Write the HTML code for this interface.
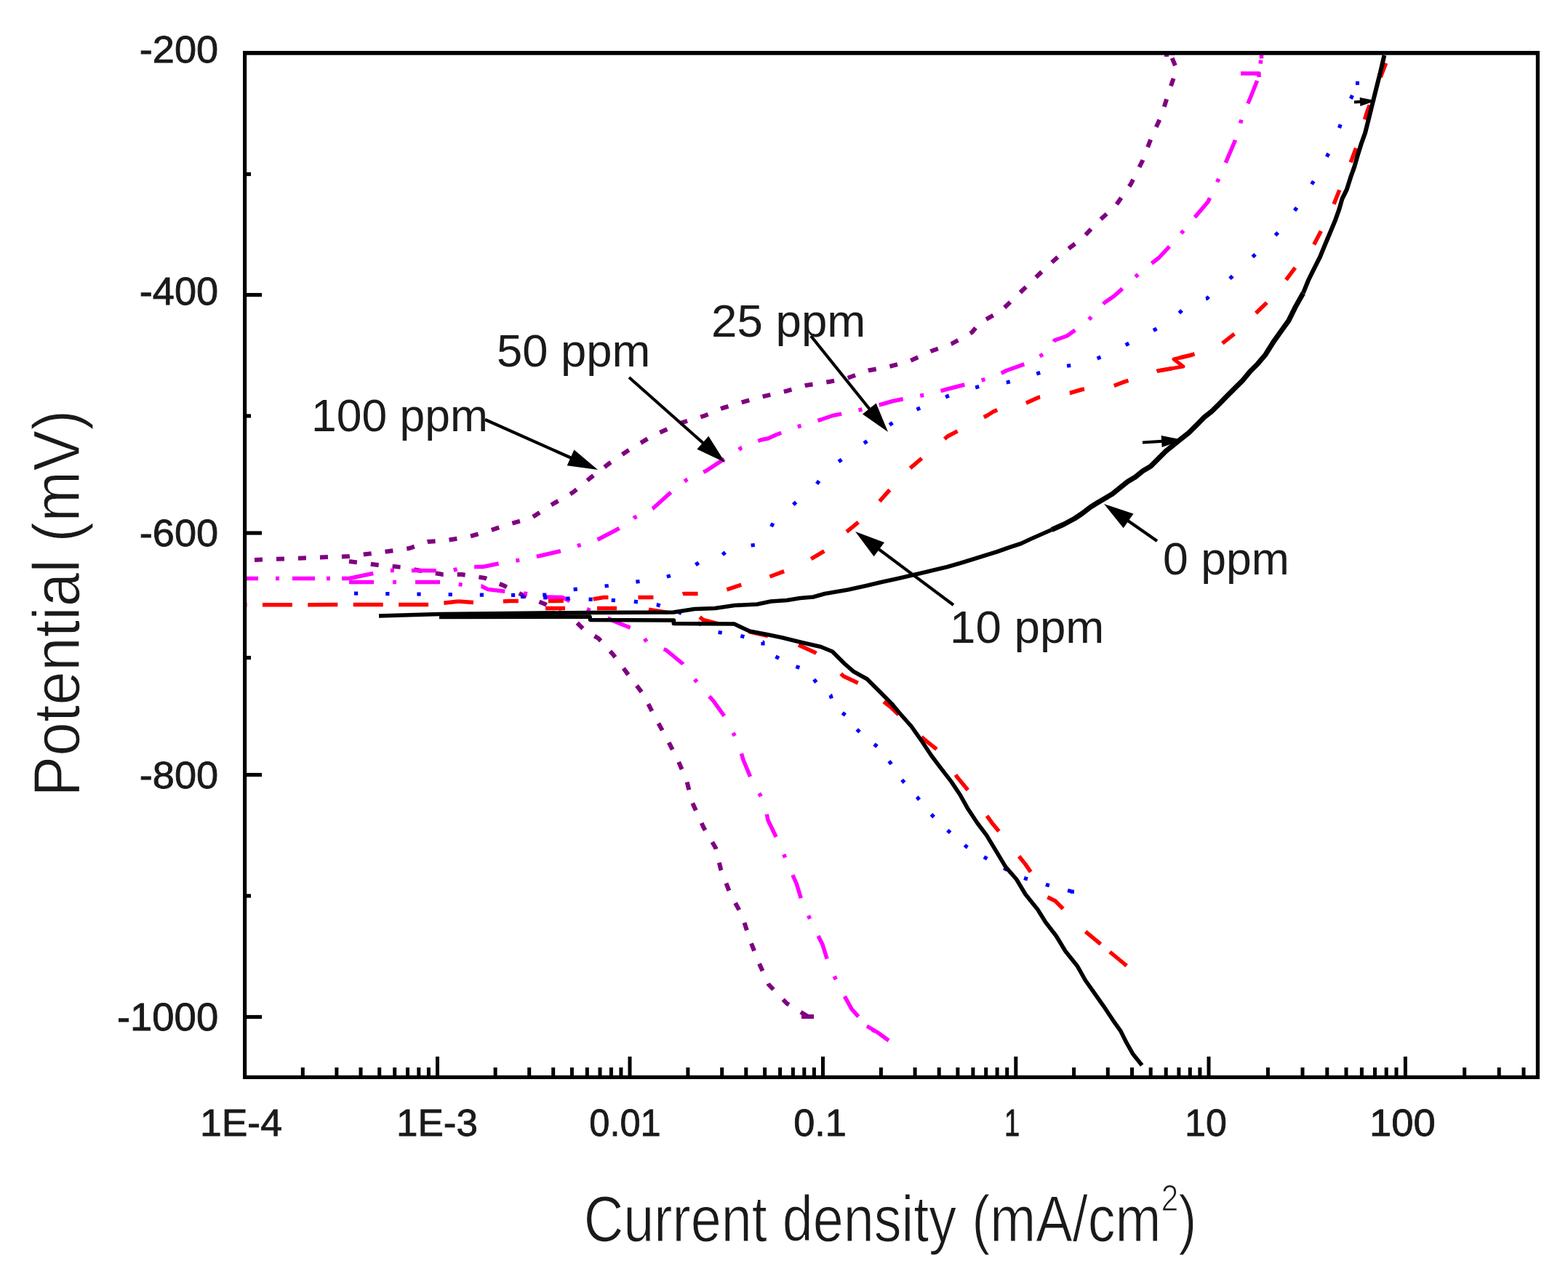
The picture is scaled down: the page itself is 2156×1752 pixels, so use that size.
<!DOCTYPE html><html><head><meta charset="utf-8"><title>Tafel plot</title>
<style>html,body{margin:0;padding:0;background:#fff;}svg{display:block;}text{font-family:"Liberation Sans",sans-serif;}</style></head><body>
<svg width="2156" height="1752" viewBox="0 0 2156 1752">
<rect x="0" y="0" width="2156" height="1752" fill="#fff"/>
<g fill="none" stroke-linejoin="round">
<polyline points="350.0,770.0 480.0,765.0 520.0,760.0 563.0,754.0 588.0,745.0 614.0,743.0 645.0,738.0 672.0,730.0 703.0,720.0 731.0,712.0 755.0,696.0 788.0,677.0 812.0,657.0 838.0,637.0 863.0,620.0 896.0,600.0 921.0,588.5 935.0,582.0 968.0,572.0 994.0,561.0 1026.0,551.6 1048.0,545.5 1082.0,537.6 1108.0,530.0 1140.0,525.0 1165.0,520.0 1194.0,509.5 1223.0,504.0 1251.0,496.5 1280.0,483.0 1308.0,473.0 1336.5,457.0 1347.0,444.0 1376.0,428.0 1402.0,403.0 1430.0,376.0 1457.0,351.0 1488.0,328.0 1508.0,306.6 1534.0,283.0 1555.0,253.0 1571.0,221.0 1584.0,187.0 1597.0,159.0 1607.0,127.0 1618.0,95.0 1610.0,76.0" stroke="#800080" stroke-width="6" stroke-dasharray="11 19"/>
<polyline points="480.0,772.0 520.0,777.0 552.0,780.0 579.0,785.0 609.0,790.0 635.0,790.0 667.0,795.0 692.0,805.0 718.0,818.0 750.0,831.0 792.0,855.0 802.0,865.0 823.0,878.0 843.0,900.0 864.0,928.0 884.0,954.0 900.0,985.0 916.0,1014.0 932.0,1045.0 944.0,1073.0 952.0,1104.0 967.5,1138.0 984.0,1166.0 991.0,1195.0 1004.0,1229.0 1020.0,1258.0 1031.0,1292.0 1043.0,1323.0 1057.0,1354.0 1082.0,1380.0 1111.0,1398.0" stroke="#800080" stroke-width="6" stroke-dasharray="11 19"/>
<polyline points="334.0,795.5 480.0,795.5" stroke="#ff00ff" stroke-width="5.5" stroke-dasharray="21 24 5 18 31 16 5 16 31 16 5 16 31 16 5 16"/>
<polyline points="480.0,795.5 532.0,784.5 563.0,784.5 620.0,785.0 641.0,779.5 664.0,779.5 688.0,774.5 703.0,772.0 719.0,769.5 742.0,764.5 770.0,758.0 786.0,753.0 820.0,743.0 845.0,730.0 861.0,721.0 872.0,712.0 898.0,699.0 918.0,681.0 935.0,666.0 944.0,660.0 971.0,647.5 999.0,629.0 1009.0,624.0 1019.0,616.0 1046.0,605.0 1056.0,603.0 1067.0,598.0 1095.0,587.5 1129.0,577.0 1145.0,571.5 1173.0,566.0 1214.0,555.5 1228.0,551.5 1284.0,540.5 1301.0,535.5 1334.0,527.0 1366.0,518.6 1384.0,509.5 1412.0,499.5 1442.0,483.0 1450.0,468.0 1467.0,462.0 1495.0,442.0 1519.0,416.0 1532.0,407.0 1545.0,395.5 1568.0,374.5 1594.0,354.0 1620.0,326.0 1641.0,301.0 1661.0,277.5 1677.0,243.0 1698.0,194.0 1708.6,159.5 1719.0,135.0 1731.0,105.0 1734.5,76.0" stroke="#ff00ff" stroke-width="5.5" stroke-dasharray="34 24 5 24"/>
<polyline points="480.0,800.5 560.0,800.5 617.0,800.5 641.0,805.5 662.0,806.0 671.0,810.6 724.0,816.5 747.0,821.0 773.0,821.5 801.0,835.0 851.0,857.0 880.0,868.5 890.0,884.0 916.0,894.0 939.0,913.0 962.0,943.0 981.0,964.0 996.0,985.0 1015.0,1021.0 1022.0,1045.0 1032.0,1069.0 1051.0,1104.0 1056.0,1128.0 1070.0,1157.0 1085.0,1192.0 1095.5,1216.0 1103.0,1241.0 1119.0,1275.0 1131.0,1299.0 1140.0,1328.0 1155.0,1358.6 1171.0,1387.6 1192.0,1411.0 1222.0,1431.0" stroke="#ff00ff" stroke-width="5.5" stroke-dasharray="34 26 5 26"/>
<polyline points="487.0,816.0 700.0,818.5 752.0,818.0 785.0,811.0 836.0,805.5 872.0,800.5 909.0,795.5 944.0,785.0 965.0,771.0 981.0,774.0 1004.5,753.0 1046.0,748.6 1050.0,747.5 1064.0,717.0 1122.0,667.0 1137.0,647.0 1168.0,624.0 1241.0,571.5 1277.0,556.0 1313.0,540.5 1350.0,530.5 1386.0,525.5 1423.0,514.5 1459.0,504.5 1495.0,499.0 1531.6,483.0 1610.0,441.7 1636.0,416.0 1659.5,410.5 1693.4,381.0 1760.4,317.0 1786.5,280.7 1812.4,239.2 1833.5,197.5 1848.7,156.4 1866.6,114.3" stroke="#0000ff" stroke-width="5.2" stroke-dasharray="5.2 38"/>
<polyline points="716.0,820.5 867.0,826.5 903.0,831.5 934.0,842.0 981.0,868.5 1017.0,874.0 1049.0,883.0 1049.0,894.0 1090.0,915.0 1105.5,920.5 1116.0,930.0 1124.0,940.5 1142.0,956.0 1147.0,972.0 1168.0,987.5 1173.0,998.4 1189.0,1013.0 1209.0,1029.0 1225.0,1050.0 1238.5,1070.6 1261.0,1096.0 1277.5,1117.0 1298.5,1138.0 1329.0,1164.4 1365.0,1185.5 1402.0,1205.6 1438.0,1216.4 1474.4,1226.2" stroke="#0000ff" stroke-width="5.2" stroke-dasharray="5.2 26"/>
<polyline points="334.0,831.7 590.0,831.5 630.0,827.0" stroke="#ff0000" stroke-width="5.5" stroke-dasharray="41 21.4" stroke-dashoffset="35.5"/>
<polyline points="630.0,827.0 660.0,829.0 700.0,826.5 760.0,826.5 805.0,826.0 830.0,821.5 872.0,821.5 926.0,821.5 940.0,816.5 987.0,816.5 999.0,811.0 1045.0,795.5 1053.0,795.0 1100.0,777.5 1145.0,751.0 1155.0,739.0 1193.0,707.5 1246.0,648.5 1303.0,600.0 1358.0,571.0 1366.0,566.0 1376.0,561.5 1407.0,556.0 1428.0,546.5 1471.0,540.5 1488.0,535.5 1531.6,530.6 1545.0,525.4 1592.0,510.0 1627.0,504.0 1614.0,494.0 1639.0,488.0 1680.0,472.7 1700.0,457.0 1740.0,418.0 1755.0,403.0 1788.6,357.6 1797.0,347.0 1805.5,338.6 1828.6,294.4 1837.0,273.3 1859.0,218.5 1864.5,203.8 1880.0,153.0 1906.0,86.0 1909.0,76.0" stroke="#ff0000" stroke-width="5.5" stroke-dasharray="21 41"/>
<polyline points="750.0,836.5 830.0,836.5 882.0,836.5 942.0,846.5 962.0,848.5 967.0,852.5 1004.0,862.0 1009.0,864.0 1071.0,878.0 1088.0,882.5 1120.0,897.0 1139.0,910.0 1160.0,930.0 1186.0,942.0 1225.0,972.7 1271.0,1017.0 1295.0,1036.0 1316.0,1068.5 1336.0,1092.8 1364.0,1131.7 1384.0,1156.0 1410.0,1188.6 1430.0,1218.0 1432.0,1229.7 1451.0,1239.0 1467.0,1255.0 1492.0,1280.6 1524.0,1307.0 1549.0,1328.0" stroke="#ff0000" stroke-width="5.5" stroke-dasharray="27 44"/>
<polyline points="1192.0,1411.0 1207.0,1420.0 1222.0,1431.0" stroke="#ff00ff" stroke-width="5.5"/>
<polyline points="1526.0,1309.0 1549.0,1328.0" stroke="#ff0000" stroke-width="5.5"/>
<polyline points="1592.0,510.0 1627.0,504.0 1614.0,494.0 1639.0,488.0" stroke="#ff0000" stroke-width="5"/>
<polyline points="1102.0,1398.0 1119.0,1398.0" stroke="#800080" stroke-width="6"/>
<polyline points="1864.0,114.3 1869.0,114.3" stroke="#0000ff" stroke-width="5.2"/>
<polyline points="1472.0,1226.2 1477.0,1226.2" stroke="#0000ff" stroke-width="5.2"/>
<polyline points="1734.5,71.0 1734.5,80.5" stroke="#ff00ff" stroke-width="5.5"/>
<polyline points="1706.0,101.0 1731.0,101.0 1731.0,106.0" stroke="#ff00ff" stroke-width="5.5"/>
<polyline points="1604.0,78.0 1604.0,73.0 1615.0,73.0" stroke="#800080" stroke-width="6"/>
<polyline points="521.0,847.0 604.0,844.5 700.0,843.5 811.0,842.5 926.0,842.0 955.0,837.5 983.0,836.5 1010.0,832.5 1041.0,831.0 1060.0,827.0 1082.0,825.5 1100.0,822.5 1118.0,821.0 1134.0,816.5 1166.0,811.0 1191.0,805.5 1212.0,800.5 1235.0,795.5 1258.6,790.0 1281.7,784.5 1302.8,779.5 1321.8,774.0 1349.2,765.5 1370.2,759.0 1387.1,753.0 1403.9,747.5 1416.6,741.5 1431.3,735.0 1446.1,728.5" stroke="#000" stroke-width="5.6"/>
<polyline points="1446.1,728.5 1462.9,721.0 1477.7,713.0 1488.2,706.0 1499.2,697.5 1508.4,691.8 1519.0,685.5 1529.5,679.2 1540.0,670.7 1550.6,662.3 1561.1,656.0 1571.6,647.6 1582.2,641.2 1592.7,630.7 1603.2,620.2 1613.8,611.7 1624.3,603.3 1634.8,594.9 1645.4,584.4 1655.9,573.8 1666.4,565.4 1677.0,554.9 1687.5,544.3 1698.0,533.8 1708.6,523.3 1719.1,510.6 1729.6,500.1 1740.2,487.4 1750.7,470.6 1761.2,455.8 1771.8,441.1 1781.2,422.1 1791.8,403.2" stroke="#000" stroke-width="7"/>
<polyline points="1791.8,403.2 1799.2,385.0 1804.4,374.4 1809.7,363.9 1815.0,353.4 1820.2,340.7 1825.5,328.0 1830.8,315.4 1836.0,302.8 1841.3,288.0 1845.5,273.3 1851.8,260.7 1857.1,243.8 1862.4,229.0 1866.6,214.3 1871.8,197.5 1877.1,182.7 1882.4,161.7 1887.6,140.6 1892.9,119.5 1898.2,98.5 1903.4,76.0" stroke="#000" stroke-width="6"/>
<polyline points="604.0,848.5 811.0,848.0 811.6,852.5 926.4,853.0 926.4,857.5 1009.6,858.0 1020.0,863.0 1030.7,868.0 1057.0,873.0 1076.0,877.0 1102.3,883.5 1128.7,889.5 1144.5,896.0 1160.5,912.0 1173.2,923.2 1192.1,933.7 1209.0,950.6 1225.8,967.4 1236.4,980.0 1253.2,999.0 1268.0,1020.0 1280.6,1039.0 1293.3,1055.9 1308.0,1074.9 1320.6,1093.8 1331.2,1112.8 1343.8,1131.7 1356.5,1148.6 1370.1,1171.1 1382.7,1192.1 1397.5,1209.0 1410.1,1230.0 1427.0,1251.1 1437.5,1268.0 1452.2,1287.0 1464.9,1308.0 1481.7,1329.1 1492.3,1348.0 1502.8,1362.8 1517.6,1383.8 1530.2,1402.8 1540.7,1417.6 1549.2,1434.4 1557.6,1449.2 1570.2,1465.0" stroke="#000" stroke-width="5.6"/>
</g>
<line x1="667.0" y1="577.0" x2="788.2" y2="631.0" stroke="#000" stroke-width="4.2"/><polygon points="822.0,646.0 779.7,640.3 789.4,618.4" fill="#000"/>
<line x1="865.0" y1="519.0" x2="969.3" y2="611.5" stroke="#000" stroke-width="4.2"/><polygon points="997.0,636.0 958.4,617.8 974.3,599.8" fill="#000"/>
<line x1="1115.0" y1="462.0" x2="1197.8" y2="565.2" stroke="#000" stroke-width="4.2"/><polygon points="1221.0,594.0 1186.0,569.5 1204.7,554.5" fill="#000"/>
<line x1="1311.0" y1="832.0" x2="1205.6" y2="753.2" stroke="#000" stroke-width="4.2"/><polygon points="1176.0,731.0 1216.0,746.0 1201.6,765.2" fill="#000"/>
<line x1="1591.0" y1="744.0" x2="1548.3" y2="714.2" stroke="#000" stroke-width="4.2"/><polygon points="1518.0,693.0 1558.5,706.6 1544.7,726.3" fill="#000"/>
<line x1="1571.0" y1="608.5" x2="1601.1" y2="606.6" stroke="#000" stroke-width="4.2"/><polygon points="1627.0,605.0 1597.6,614.9 1596.6,598.9" fill="#000"/>
<line x1="1862.0" y1="140.5" x2="1874.0" y2="139.7" stroke="#000" stroke-width="4.2"/><polygon points="1892.0,138.5 1870.4,146.0 1869.6,134.0" fill="#000"/>
<g fill="#000">
<rect x="334" y="70" width="1783" height="5.7"/>
<rect x="334" y="1478.8" width="1783" height="5.2"/>
<rect x="334" y="70" width="5.2" height="1414"/>
<rect x="2111.8" y="70" width="5.2" height="1414"/>
<rect x="599.0" y="1453" width="5" height="27"/>
<rect x="863.5" y="1453" width="5" height="27"/>
<rect x="1129.0" y="1453" width="5" height="27"/>
<rect x="1394.3" y="1453" width="5" height="27"/>
<rect x="1659.5" y="1453" width="5" height="27"/>
<rect x="1929.9" y="1453" width="5" height="27"/>
<rect x="413.8" y="1468" width="5" height="12"/>
<rect x="460.4" y="1468" width="5" height="12"/>
<rect x="493.5" y="1468" width="5" height="12"/>
<rect x="519.2" y="1468" width="5" height="12"/>
<rect x="540.2" y="1468" width="5" height="12"/>
<rect x="558.0" y="1468" width="5" height="12"/>
<rect x="573.3" y="1468" width="5" height="12"/>
<rect x="586.9" y="1468" width="5" height="12"/>
<rect x="678.6" y="1468" width="5" height="12"/>
<rect x="725.2" y="1468" width="5" height="12"/>
<rect x="758.2" y="1468" width="5" height="12"/>
<rect x="783.9" y="1468" width="5" height="12"/>
<rect x="804.8" y="1468" width="5" height="12"/>
<rect x="822.5" y="1468" width="5" height="12"/>
<rect x="837.9" y="1468" width="5" height="12"/>
<rect x="851.4" y="1468" width="5" height="12"/>
<rect x="943.4" y="1468" width="5" height="12"/>
<rect x="990.2" y="1468" width="5" height="12"/>
<rect x="1023.3" y="1468" width="5" height="12"/>
<rect x="1049.1" y="1468" width="5" height="12"/>
<rect x="1070.1" y="1468" width="5" height="12"/>
<rect x="1087.9" y="1468" width="5" height="12"/>
<rect x="1103.3" y="1468" width="5" height="12"/>
<rect x="1116.9" y="1468" width="5" height="12"/>
<rect x="1208.9" y="1468" width="5" height="12"/>
<rect x="1255.6" y="1468" width="5" height="12"/>
<rect x="1288.7" y="1468" width="5" height="12"/>
<rect x="1314.4" y="1468" width="5" height="12"/>
<rect x="1335.4" y="1468" width="5" height="12"/>
<rect x="1353.2" y="1468" width="5" height="12"/>
<rect x="1368.6" y="1468" width="5" height="12"/>
<rect x="1382.2" y="1468" width="5" height="12"/>
<rect x="1474.1" y="1468" width="5" height="12"/>
<rect x="1520.8" y="1468" width="5" height="12"/>
<rect x="1554.0" y="1468" width="5" height="12"/>
<rect x="1579.7" y="1468" width="5" height="12"/>
<rect x="1600.7" y="1468" width="5" height="12"/>
<rect x="1618.4" y="1468" width="5" height="12"/>
<rect x="1633.8" y="1468" width="5" height="12"/>
<rect x="1647.4" y="1468" width="5" height="12"/>
<rect x="1740.9" y="1468" width="5" height="12"/>
<rect x="1788.5" y="1468" width="5" height="12"/>
<rect x="1822.3" y="1468" width="5" height="12"/>
<rect x="1848.5" y="1468" width="5" height="12"/>
<rect x="1869.9" y="1468" width="5" height="12"/>
<rect x="1888.0" y="1468" width="5" height="12"/>
<rect x="1903.7" y="1468" width="5" height="12"/>
<rect x="1917.5" y="1468" width="5" height="12"/>
<rect x="2011.2" y="1468" width="5" height="12"/>
<rect x="2058.7" y="1468" width="5" height="12"/>
<rect x="2092.5" y="1468" width="5" height="12"/>
<rect x="334" y="402.9" width="26" height="5.2"/>
<rect x="334" y="730.4" width="26" height="5.2"/>
<rect x="334" y="1062.9" width="26" height="5.2"/>
<rect x="334" y="1395.9" width="26" height="5.2"/>
<rect x="334" y="236.9" width="11" height="5.2"/>
<rect x="334" y="569.4" width="11" height="5.2"/>
<rect x="334" y="901.9" width="11" height="5.2"/>
<rect x="334" y="1229.4" width="11" height="5.2"/>
</g>
<g fill="#1a1a1a">
<g transform="matrix(1.08333,0,0,1.02857,-23.750,-2.457)" stroke="#1a1a1a" stroke-width="0.8"><text x="299" y="86" font-size="50" text-anchor="end">-200</text></g>
<g transform="matrix(1.08333,0,0,1.05714,-23.750,-22.886)" stroke="#1a1a1a" stroke-width="0.8"><text x="299" y="418" font-size="50" text-anchor="end">-400</text></g>
<g transform="matrix(1.08333,0,0,1.02857,-23.750,-20.429)" stroke="#1a1a1a" stroke-width="0.8"><text x="299" y="750" font-size="50" text-anchor="end">-600</text></g>
<g transform="matrix(1.08333,0,0,1.02857,-23.750,-29.943)" stroke="#1a1a1a" stroke-width="0.8"><text x="299" y="1083" font-size="50" text-anchor="end">-800</text></g>
<g transform="matrix(1.08871,0,0,1.05714,-25.347,-79.914)" stroke="#1a1a1a" stroke-width="0.8"><text x="299" y="1416" font-size="50" text-anchor="end">-1000</text></g>
<g transform="matrix(1.07000,0,0,1.02857,-24.880,-44.629)" stroke="#1a1a1a" stroke-width="0.8"><text x="333" y="1562" font-size="50" text-anchor="middle">1E-4</text></g>
<g transform="matrix(1.06000,0,0,1.02857,-37.180,-44.629)" stroke="#1a1a1a" stroke-width="0.8"><text x="602" y="1562" font-size="50" text-anchor="middle">1E-3</text></g>
<g transform="matrix(1.01075,0,0,1.02857,-8.731,-44.629)" stroke="#1a1a1a" stroke-width="0.8"><text x="859" y="1562" font-size="50" text-anchor="middle">0.01</text></g>
<g transform="matrix(1.04615,0,0,1.02857,-51.492,-44.629)" stroke="#1a1a1a" stroke-width="0.8"><text x="1127" y="1562" font-size="50" text-anchor="middle">0.1</text></g>
<g transform="matrix(0.76190,0,0,1.02857,331.048,-44.629)" stroke="#1a1a1a" stroke-width="0.8"><text x="1392" y="1562" font-size="50" text-anchor="middle">1</text></g>
<g transform="matrix(1.04000,0,0,1.02857,-67.400,-44.629)" stroke="#1a1a1a" stroke-width="0.8"><text x="1659" y="1562" font-size="50" text-anchor="middle">10</text></g>
<g transform="matrix(1.08974,0,0,1.02857,-173.705,-44.629)" stroke="#1a1a1a" stroke-width="0.8"><text x="1929" y="1562" font-size="50" text-anchor="middle">100</text></g>
<g transform="matrix(0.97500,0,0,0.98276,7.900,8.483)"><text x="431" y="595" font-size="64">100 ppm</text></g>
<g transform="matrix(0.99029,0,0,0.98276,5.670,5.966)"><text x="684" y="507" font-size="64">50 ppm</text></g>
<g transform="matrix(0.99515,0,0,0.98276,3.767,6.241)"><text x="979" y="465" font-size="64">25 ppm</text></g>
<g transform="matrix(0.99510,0,0,0.98276,3.441,13.500)"><text x="1309" y="886" font-size="64">10 ppm</text></g>
<g transform="matrix(0.97661,0,0,0.98276,36.497,10.897)"><text x="1600" y="793" font-size="64">0 ppm</text></g>
<g transform="matrix(0.85891,0,0,1.01290,110.425,-22.239)" stroke="#fff" stroke-width="1.2"><text x="806" y="1707" font-size="88">Current density (mA/cm<tspan dy="-41" font-size="50">2</tspan><tspan dy="41">)</tspan></text></g>
<g transform="matrix(1.02951,0,0,0.95413,-4.405,57.587)" stroke="#fff" stroke-width="1.2"><text transform="translate(110.6,1088) rotate(-90)" x="0" y="0" font-size="88">Potential (mV)</text></g>
</g>
</svg></body></html>
